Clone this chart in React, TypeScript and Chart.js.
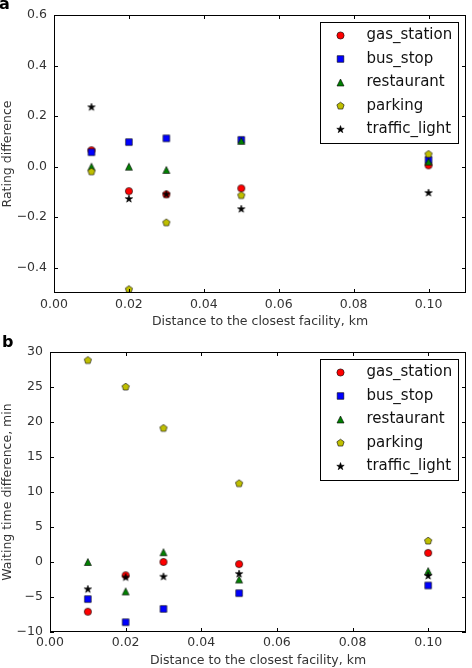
import React, { useEffect, useRef } from "react";
import { Chart, registerables } from "chart.js";

Chart.register(...registerables);

// ---------------- DATA ----------------
const seriesNames = ["gas_station", "bus_stop", "restaurant", "parking", "traffic_light"];
const distances = [0.01, 0.02, 0.03, 0.05, 0.1];

const ratingGas = [0.065, -0.097, -0.11, -0.086, 0.005];
const ratingBus = [0.057, 0.097, 0.112, 0.106, 0.027];
const ratingRestaurant = [0.0, 0.0, -0.013, 0.102, 0.02];
const ratingParking = [-0.02, -0.486, -0.222, -0.114, 0.049];
const ratingTraffic = [0.235, -0.128, -0.11, -0.168, -0.104];

const waitGas = [-7.1, -1.9, 0.0, -0.3, 1.3];
const waitBus = [-5.3, -8.6, -6.7, -4.45, -3.35];
const waitRestaurant = [0.0, -4.2, 1.4, -2.5, -1.3];
const waitParking = [28.8, 25.0, 19.1, 11.2, 3.0];
const waitTraffic = [-3.9, -2.2, -2.1, -1.7, -2.0];

const xTicks = [0, 0.02, 0.04, 0.06, 0.08, 0.1];
const ratingTicks = [-0.4, -0.2, 0, 0.2, 0.4, 0.6];
const waitTicks = [-10, -5, 0, 5, 10, 15, 20, 25, 30];

const seriesColors = ["#ff0000", "#0000ff", "#008000", "#bfbf00", "#000000"];
const seriesShapes = ["circle", "square", "triangle", "pentagon", "star"];

// ---------------- MARKERS ----------------
function traceShape(ctx: CanvasRenderingContext2D, shape: string, cx: number, cy: number) {
  ctx.beginPath();
  if (shape === "circle") {
    ctx.arc(cx, cy, 3.6, 0, Math.PI * 2);
  } else if (shape === "square") {
    ctx.rect(cx - 3.3, cy - 3.3, 6.6, 6.6);
  } else if (shape === "triangle") {
    const h = 3.5;
    ctx.moveTo(cx, cy - h);
    ctx.lineTo(cx + h, cy + h);
    ctx.lineTo(cx - h, cy + h);
    ctx.closePath();
  } else if (shape === "pentagon") {
    const r = 3.8;
    for (let k = 0; k < 5; k++) {
      const a = -Math.PI / 2 + (k * 2 * Math.PI) / 5;
      const px = cx + r * Math.cos(a);
      const py = cy + r * Math.sin(a);
      if (k === 0) ctx.moveTo(px, py);
      else ctx.lineTo(px, py);
    }
    ctx.closePath();
  } else {
    const ro = 3.9;
    const ri = 1.55;
    for (let k = 0; k < 10; k++) {
      const a = -Math.PI / 2 + (k * Math.PI) / 5;
      const r = k % 2 === 0 ? ro : ri;
      const px = cx + r * Math.cos(a);
      const py = cy + r * Math.sin(a);
      if (k === 0) ctx.moveTo(px, py);
      else ctx.lineTo(px, py);
    }
    ctx.closePath();
  }
}

function drawMarker(ctx: CanvasRenderingContext2D, shape: string, fill: string, cx: number, cy: number) {
  ctx.save();
  traceShape(ctx, shape, cx, cy);
  ctx.fillStyle = fill;
  ctx.fill();
  ctx.lineWidth = 0.6;
  ctx.strokeStyle = "#000";
  ctx.stroke();
  ctx.restore();
}

function makeMarker(shape: string, fill: string): HTMLCanvasElement {
  const s = 14;
  const c = document.createElement("canvas");
  c.width = s;
  c.height = s;
  const ctx = c.getContext("2d")!;
  drawMarker(ctx, shape, fill, s / 2, s / 2);
  return c;
}

// ---------------- PLUGIN ----------------
const FONT = '"DejaVu Sans", sans-serif';

const framePlugin = {
  id: "frameLegend",
  afterDatasetsDraw(chart: any, _args: any, opts: any) {
    const { ctx, chartArea: ca, scales } = chart;
    ctx.save();
    ctx.strokeStyle = "#000";
    ctx.lineWidth = 1;
    const tl = 4;
    ctx.beginPath();
    scales.x.ticks.forEach((t: any) => {
      const px = Math.round(scales.x.getPixelForValue(t.value)) + 0.5;
      ctx.moveTo(px, ca.bottom);
      ctx.lineTo(px, ca.bottom - tl);
      ctx.moveTo(px, ca.top);
      ctx.lineTo(px, ca.top + tl);
    });
    scales.y.ticks.forEach((t: any) => {
      const py = Math.round(scales.y.getPixelForValue(t.value)) + 0.5;
      ctx.moveTo(ca.left, py);
      ctx.lineTo(ca.left + tl, py);
      ctx.moveTo(ca.right, py);
      ctx.lineTo(ca.right - tl, py);
    });
    ctx.stroke();
    ctx.strokeRect(ca.left + 0.5, ca.top + 0.5, ca.right - ca.left - 1, ca.bottom - ca.top - 1);

    // legend
    const bw = 138;
    const bh = 121;
    const bx = Math.round(ca.right - 8 - bw) + 0.5;
    const by = Math.round(ca.top + 7) + 0.5;
    ctx.fillStyle = "#fff";
    ctx.fillRect(bx, by, bw, bh);
    ctx.strokeRect(bx, by, bw, bh);
    ctx.font = `15px ${FONT}`;
    ctx.textBaseline = "middle";
    ctx.textAlign = "left";
    seriesNames.forEach((name, i) => {
      const cy = by + 13 + i * 23.5;
      drawMarker(ctx, seriesShapes[i], seriesColors[i], bx + 20, cy);
      ctx.fillStyle = "#111";
      ctx.fillText(name, bx + 46, cy);
    });

    // panel label
    ctx.font = `bold 16px ${FONT}`;
    ctx.textBaseline = "alphabetic";
    ctx.fillStyle = "#000";
    ctx.fillText(opts.label, opts.labelX, opts.labelY);
    ctx.restore();
  },
};

// ---------------- CHART ----------------
type PanelCfg = {
  label: string;
  labelX: number;
  labelY: number;
  ySeries: number[][];
  yMin: number;
  yMax: number;
  yTicks: number[];
  yDecimals: number;
  yTitle: string;
  yWidth: number;
  xHeight: number;
  padTop: number;
  padRight: number;
  xTickPad: number;
  xTitlePad: number;
  yTitlePad: number;
};

const fmt = (v: number, d: number) => {
  const s = Math.abs(v).toFixed(d);
  return v < -1e-9 ? "\u2212" + s : s;
};

function buildConfig(cfg: PanelCfg): any {
  const tickFont = { family: FONT, size: 12.5 };
  const titleFont = { family: FONT, size: 12.5 };
  const datasets = cfg.ySeries.map((vals, i) => ({
    label: seriesNames[i],
    data: distances.map((x, j) => ({ x, y: vals[j] })),
    pointStyle: makeMarker(seriesShapes[i], seriesColors[i]),
    pointRadius: 5,
    showLine: false,
    order: seriesNames.length - i,
  }));
  return {
    type: "scatter",
    data: { datasets },
    options: {
      animation: false,
      responsive: false,
      maintainAspectRatio: false,
      events: [],
      layout: { padding: { left: 0, right: cfg.padRight, top: cfg.padTop, bottom: 0 } },
      plugins: {
        legend: { display: false },
        tooltip: { enabled: false },
        frameLegend: { label: cfg.label, labelX: cfg.labelX, labelY: cfg.labelY },
      },
      scales: {
        x: {
          type: "linear",
          min: 0,
          max: 0.11,
          afterBuildTicks: (s: any) => {
            s.ticks = xTicks.map((v) => ({ value: v }));
          },
          afterFit: (s: any) => {
            s.height = cfg.xHeight;
          },
          grid: { display: false, drawTicks: false },
          border: { display: false },
          ticks: {
            padding: cfg.xTickPad,
            font: tickFont,
            color: "#333",
            maxRotation: 0,
            autoSkip: false,
            callback: (v: number) => fmt(v, 2),
          },
          title: {
            display: true,
            text: "Distance to the closest facility, km",
            font: titleFont,
            color: "#333",
            padding: { top: 0, bottom: cfg.xTitlePad },
          },
        },
        y: {
          type: "linear",
          min: cfg.yMin,
          max: cfg.yMax,
          afterBuildTicks: (s: any) => {
            s.ticks = cfg.yTicks.map((v) => ({ value: v }));
          },
          afterFit: (s: any) => {
            s.width = cfg.yWidth;
          },
          grid: { display: false, drawTicks: false },
          border: { display: false },
          ticks: {
            padding: 7,
            font: tickFont,
            color: "#333",
            autoSkip: false,
            callback: (v: number) => fmt(v, cfg.yDecimals),
          },
          title: {
            display: true,
            text: cfg.yTitle,
            font: titleFont,
            color: "#333",
            padding: { top: cfg.yTitlePad, bottom: 0 },
          },
        },
      },
    },
    plugins: [framePlugin],
  };
}

function Panel({ cfg }: { cfg: PanelCfg }) {
  const ref = useRef<HTMLCanvasElement | null>(null);
  useEffect(() => {
    if (!ref.current) return;
    const chart = new Chart(ref.current, buildConfig(cfg));
    return () => chart.destroy();
  }, []);
  return <canvas ref={ref} width={472} height={334} style={{ display: "block", width: 472, height: 334 }} />;
}

const topCfg: PanelCfg = {
  label: "a",
  labelX: -1,
  labelY: 9,
  ySeries: [ratingGas, ratingBus, ratingRestaurant, ratingParking, ratingTraffic],
  yMin: -0.5,
  yMax: 0.6,
  yTicks: ratingTicks,
  yDecimals: 1,
  yTitle: "Rating difference",
  yWidth: 54,
  xHeight: 41,
  padTop: 15,
  padRight: 1,
  xTickPad: 4,
  xTitlePad: 5,
  yTitlePad: 0,
};

const bottomCfg: PanelCfg = {
  label: "b",
  labelX: 2,
  labelY: 13,
  ySeries: [waitGas, waitBus, waitRestaurant, waitParking, waitTraffic],
  yMin: -10,
  yMax: 30,
  yTicks: waitTicks,
  yDecimals: 0,
  yTitle: "Waiting time difference, min",
  yWidth: 50,
  xHeight: 36,
  padTop: 18,
  padRight: 1,
  xTickPad: 3,
  xTitlePad: 0,
  yTitlePad: 0,
};

export default function App() {
  return (
    <div style={{ position: "absolute", left: 0, top: 0, width: 472, height: 668, background: "#fff" }}>
      <Panel cfg={topCfg} />
      <Panel cfg={bottomCfg} />
    </div>
  );
}
